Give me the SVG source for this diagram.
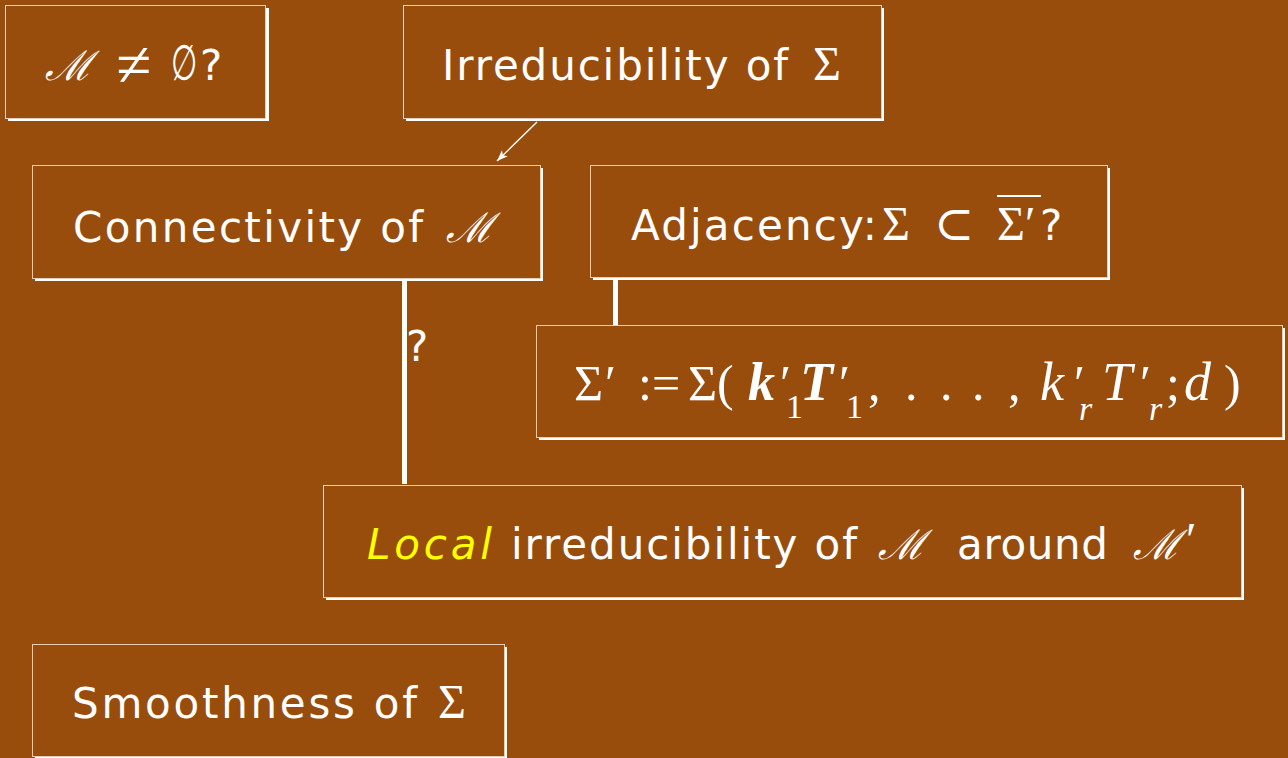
<svg xmlns="http://www.w3.org/2000/svg" width="1288" height="758" viewBox="0 0 1288 758">
<defs>
<marker id="ah" viewBox="0 0 10 10" refX="10" refY="5" markerWidth="11" markerHeight="11" markerUnits="userSpaceOnUse" orient="auto"><path d="M0,1.2 L10,5 L0,8.8 L2.5,5 z" fill="#fff"/></marker>
</defs>
<style>
.sh{fill:#fff}
.bx{fill:#994D0D;stroke:#e6cdb8;stroke-width:1}
.t{font-family:"DejaVu Sans","Liberation Sans",sans-serif;font-size:42px;fill:#fff}
.m{font-family:"Liberation Serif","DejaVu Serif",serif;font-size:48px;fill:#fff}
.sc{font-family:"DejaVu Serif","Liberation Serif",serif;font-size:41px;font-style:italic;fill:#fff}
.it{font-style:italic;font-size:54px}
.bi{font-style:italic;font-weight:bold;font-size:54px}
.sub{font-size:34px}
.ln{stroke:#fff;fill:none}
</style>
<rect width="1288" height="758" fill="#994D0D"/>

<g id="connectors">
<line class="ln" x1="537" y1="122" x2="497" y2="161" stroke-width="1.3" marker-end="url(#ah)"/>
<line class="ln" x1="404.5" y1="280" x2="404.5" y2="484" stroke-width="5"/>
<line class="ln" x1="615.5" y1="278" x2="615.5" y2="325" stroke-width="5"/>
<text class="t" x="406" y="361">?</text>
</g>

<g id="n-nonempty">
<rect class="sh" x="8" y="8" width="261" height="113"/>
<rect class="bx" x="5.5" y="5.5" width="260" height="113"/>
<text class="sc" x="45" y="80">ℳ</text>
<text class="m" x="116" y="86" style="font-size:64px">≠</text>
<text class="t" transform="translate(171,80) scale(0.72,1.18)" x="0" y="0">∅</text>
<text class="t" x="200" y="80">?</text>
</g>

<g id="n-irred">
<rect class="sh" x="406" y="8" width="478" height="113"/>
<rect class="bx" x="403.5" y="5.5" width="478" height="113"/>
<text class="t" x="442" y="80" textLength="346" lengthAdjust="spacing">Irreducibility of</text>
<text class="m" x="813" y="80">Σ</text>
</g>

<g id="n-conn">
<rect class="sh" x="35" y="168" width="508" height="113"/>
<rect class="bx" x="32.5" y="165.5" width="508" height="113"/>
<text class="t" x="73" y="242" textLength="350" lengthAdjust="spacing">Connectivity of</text>
<text class="sc" x="446" y="242">ℳ</text>
</g>

<g id="n-adj">
<rect class="sh" x="593" y="168" width="517" height="112"/>
<rect class="bx" x="590.5" y="165.5" width="517" height="112"/>
<text class="t" x="631" y="240" textLength="246" lengthAdjust="spacing">Adjacency:</text>
<text class="m" x="882" y="240">Σ</text>
<text class="m" x="934" y="240">⊂</text>
<text class="m" x="997" y="240">Σ′</text>
<line class="ln" x1="997" y1="196" x2="1041" y2="196" stroke-width="2"/>
<text class="t" x="1040" y="240">?</text>
</g>

<g id="n-sigmaprime">
<rect class="sh" x="539" y="328" width="746" height="112"/>
<rect class="bx" x="536.5" y="325.5" width="746" height="112"/>
<text class="m" style="font-size:50px" y="400"><tspan x="574">Σ</tspan><tspan x="605">′</tspan><tspan x="638">:=</tspan><tspan x="688">Σ(</tspan><tspan x="748" class="bi">k</tspan><tspan x="780">′</tspan><tspan x="786" y="418" class="sub">1</tspan><tspan x="800" y="400" class="bi">T</tspan><tspan x="839">′</tspan><tspan x="846" y="418" class="sub">1</tspan><tspan x="868" y="400">,</tspan><tspan x="905">.</tspan><tspan x="940">.</tspan><tspan x="972">.</tspan><tspan x="1008">,</tspan><tspan x="1040" class="it">k</tspan><tspan x="1074">′</tspan><tspan x="1079" y="420" class="sub" style="font-style:italic">r</tspan><tspan x="1102" y="400" class="it">T</tspan><tspan x="1140">′</tspan><tspan x="1149" y="420" class="sub" style="font-style:italic">r</tspan><tspan x="1166" y="400">;</tspan><tspan x="1184" class="it">d</tspan><tspan x="1224">)</tspan></text>
</g>

<g id="n-local">
<rect class="sh" x="326" y="488" width="918" height="112"/>
<rect class="bx" x="323.5" y="485.5" width="918" height="112"/>
<text class="t" x="367" y="559" textLength="125" lengthAdjust="spacing" style="fill:#ffff00;font-style:italic">Local</text>
<text class="t" x="511" y="559" textLength="346" lengthAdjust="spacing">irreducibility of</text>
<text class="sc" x="878" y="559">ℳ</text>
<text class="t" x="957" y="559" textLength="151" lengthAdjust="spacing">around</text>
<text class="sc" x="1133" y="559">ℳ<tspan class="m" style="font-style:normal" x="1186" y="556">′</tspan></text>
</g>

<g id="n-smooth">
<rect class="sh" x="35" y="647" width="472" height="112"/>
<rect class="bx" x="32.5" y="644.5" width="472" height="112"/>
<text class="t" x="72" y="718" textLength="345" lengthAdjust="spacing">Smoothness of</text>
<text class="m" x="438" y="718">Σ</text>
</g>
</svg>
